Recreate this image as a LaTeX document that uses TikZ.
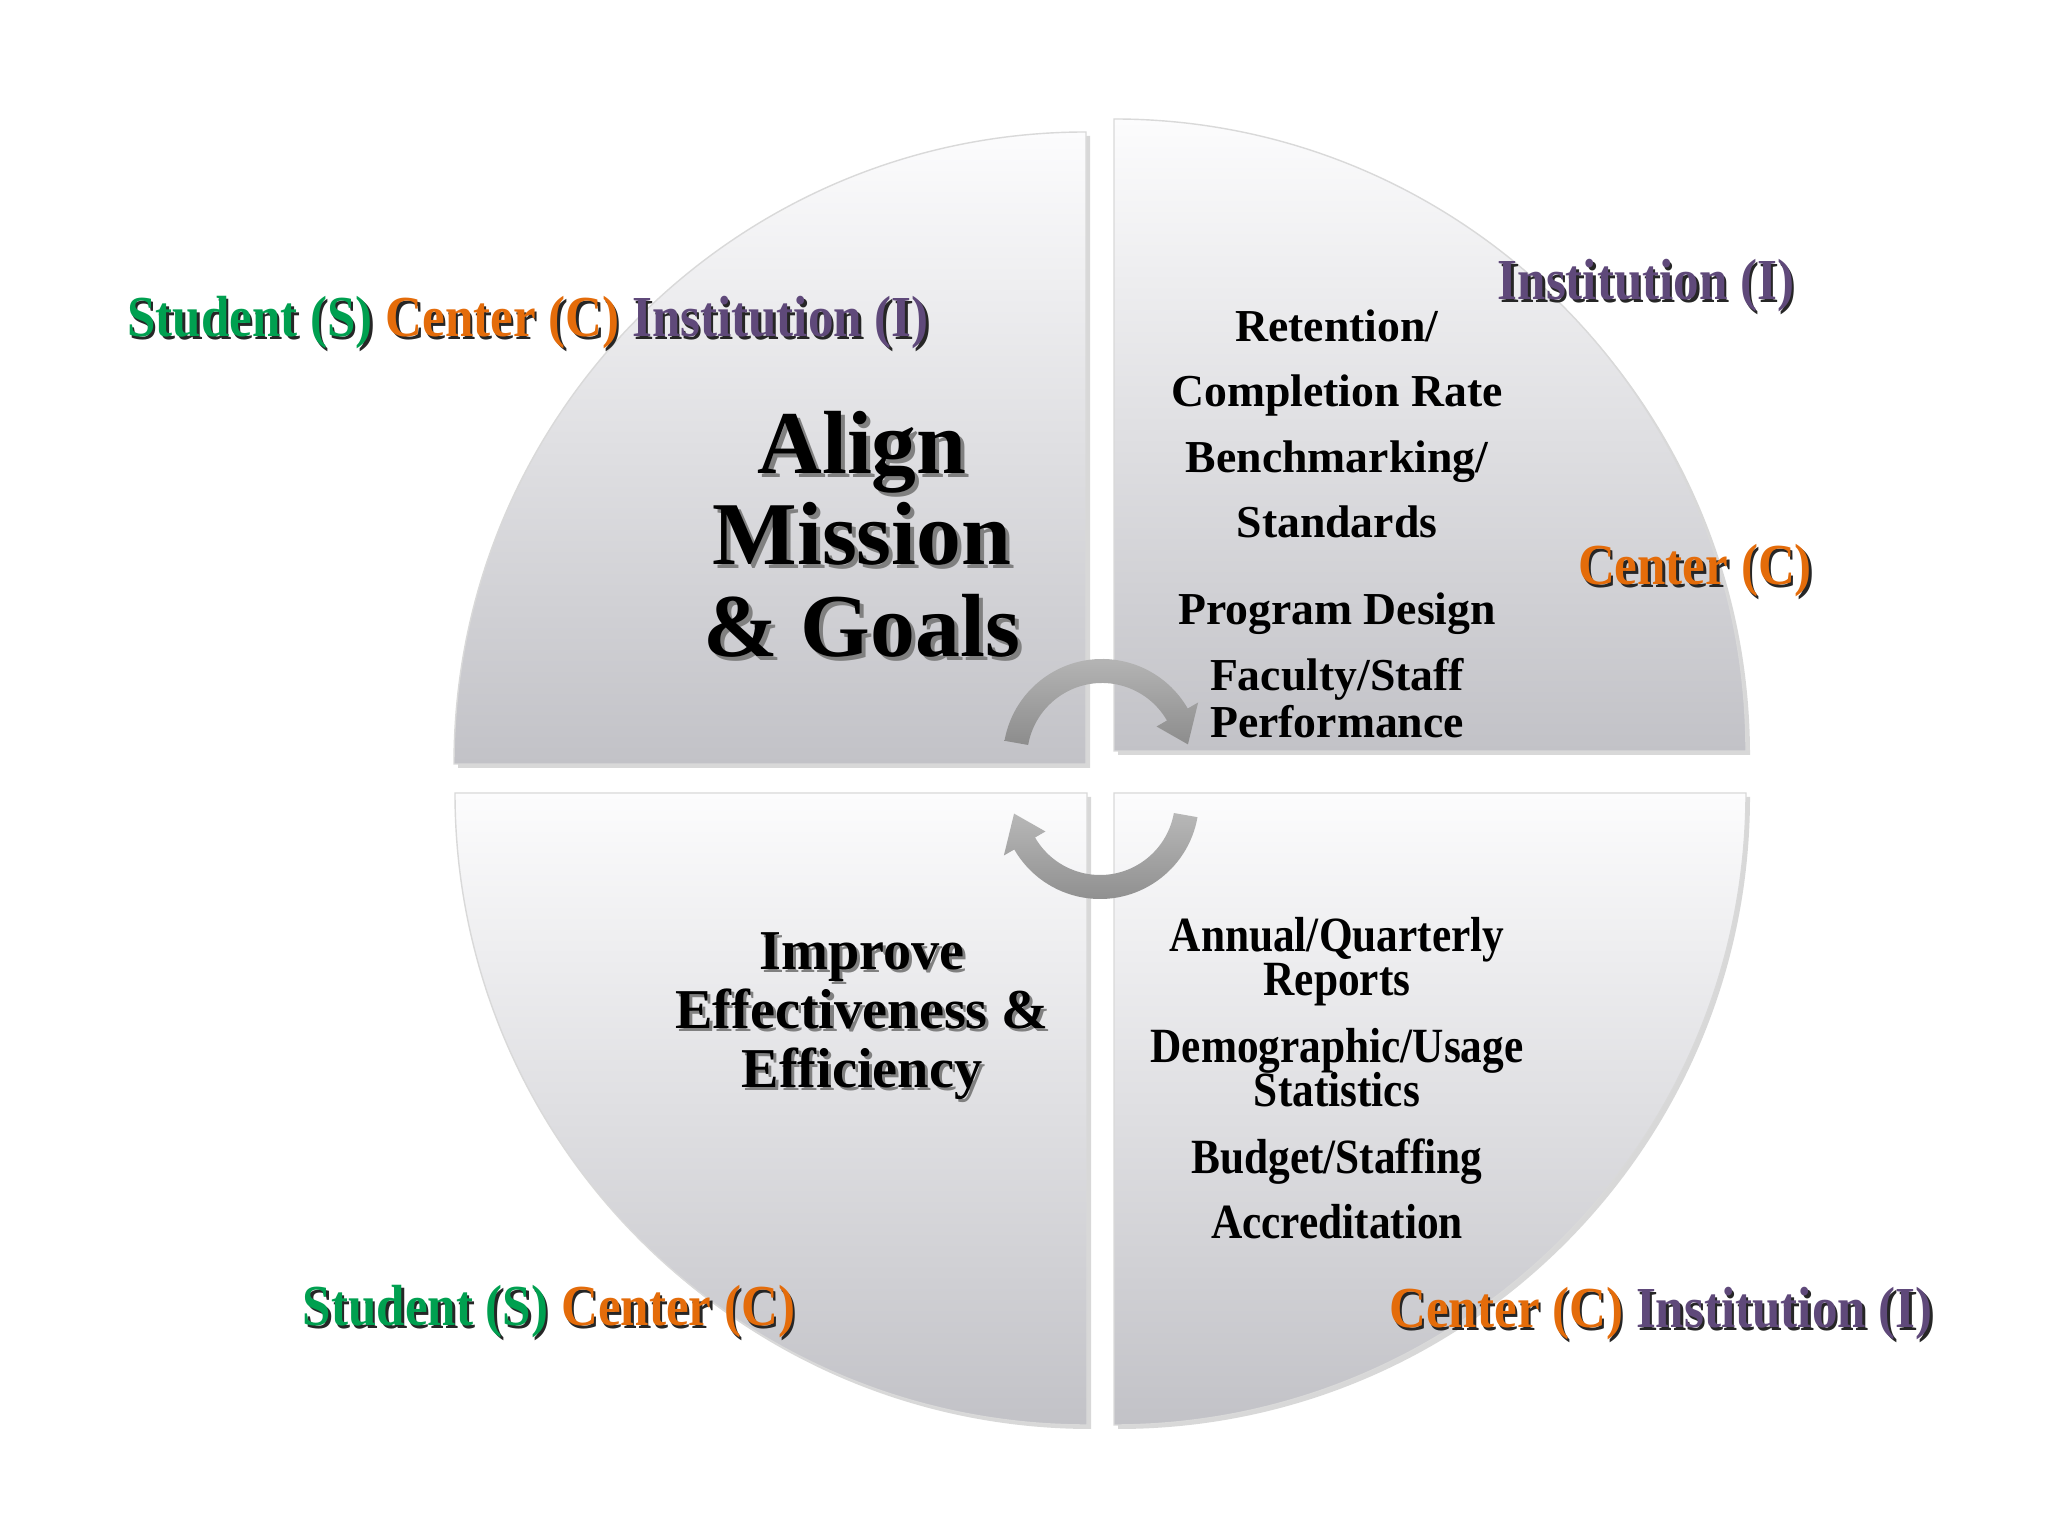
\documentclass[tikz,border=0pt]{standalone}
\usepackage{fontspec}
\setmainfont{Liberation Serif}
\newfontfamily\narrowserif{Liberation Serif}[FakeStretch=0.88]
\usepackage{tikz}
\usetikzlibrary{calc,shadows,positioning}
\definecolor{stugreen}{RGB}{0,160,80}
\definecolor{cenorange}{RGB}{228,108,10}
\definecolor{instpurple}{RGB}{95,73,122}
\definecolor{pielight}{RGB}{252,252,253}
\definecolor{piedark}{RGB}{194,194,199}
\newcommand{\Stu}{\textcolor{stugreen}{Student (S)}}
\newcommand{\Cen}{\textcolor{cenorange}{Center (C)}}
\newcommand{\Ins}{\textcolor{instpurple}{Institution (I)}}
\newcommand{\blackout}{\colorlet{stugreen}{black!85}\colorlet{cenorange}{black!85}\colorlet{instpurple}{black!85}}
% tag with a dark shadow behind it
\newcommand{\tagpair}[3]{%
  \node[tagtext] (#1-shadow) at ($(#2)+(2.5,-2.5)$) {\blackout #3};
  \node[tagtext] (#1) at (#2) {#3};}

\begin{document}
\begin{tikzpicture}[
  x=0.01cm, y=0.01cm,
  quad/.style={
    top color=pielight,
    bottom color=piedark,
    draw=black!15,
    line width=0.4pt,
    drop shadow={shadow xshift=0.04cm, shadow yshift=-0.04cm, opacity=0.3}
    },
  swirl/.style={top color=black!28, bottom color=black!45},
  headtext/.style={font=\bfseries\fontsize{25.5}{25.9}\selectfont, align=center, inner sep=0pt, anchor=north},
  subhead/.style={font=\bfseries\fontsize{16}{16.8}\selectfont, align=center, inner sep=0pt, anchor=north},
  itemtext/.style={font=\bfseries\fontsize{13}{13.4}\selectfont, align=center, inner sep=0pt, anchor=north},
  reporttext/.style={font={\narrowserif\bfseries\fontsize{14}{12.5}\selectfont\lineskiplimit=-5pt}, align=center, inner sep=0pt, anchor=north},
  tagtext/.style={font=\narrowserif\bfseries\fontsize{16.5}{18}\selectfont, inner sep=0pt, anchor=base}
]
\fill[white] (0,0) rectangle (2048,1536);
\useasboundingbox (0,0) rectangle (2048,1536);

% corners of the four quarters
\coordinate (tl) at (1086,772);
\coordinate (tr) at (1114,785);
\coordinate (bl) at (1087,743);
\coordinate (br) at (1114,743);

\path[quad] (tl) -- ++(-632,0) arc[start angle=180, end angle=90, radius=632] -- cycle;
\path[quad] (tr) -- ++(0,632) arc[start angle=90, end angle=0, radius=632] -- cycle;
\path[quad] (bl) -- ++(-632,0) arc[start angle=180, end angle=270, radius=632] -- cycle;
\path[quad] (br) -- ++(632,0) arc[start angle=0, end angle=-90, radius=632] -- cycle;

% circular arrows
\coordinate (topc) at (1102,778);
\coordinate (botc) at (1100,736);
\path[swirl] ([shift={(topc)}]170:99) arc[start angle=170, end angle=30, radius=99]
  -- ([shift={(topc)}]30:111) -- ([shift={(topc)}]9:87) -- ([shift={(topc)}]30:63)
  -- ([shift={(topc)}]30:75) arc[start angle=30, end angle=170, radius=75] -- cycle;
\path[swirl] ([shift={(botc)}]-10:99) arc[start angle=-10, end angle=-150, radius=99]
  -- ([shift={(botc)}]-150:111) -- ([shift={(botc)}]-171:87) -- ([shift={(botc)}]-150:63)
  -- ([shift={(botc)}]-150:75) arc[start angle=-150, end angle=-10, radius=75] -- cycle;

% headings
\node[headtext, text=black!50] (align-shadow) at (866,1121) {Align\\Mission\\\& Goals};
\node[headtext] (align) at (862,1125) {Align\\Mission\\\& Goals};
\node[subhead, text=black!50] (improve-shadow) at (865,601) {Improve\\Effectiveness \&\\Efficiency};
\node[subhead] (improve) at (862,604) {Improve\\Effectiveness \&\\Efficiency};

% measures
\node[itemtext] (measures) at (1337,1227) {Retention/\\[5.2pt]Completion Rate\\[5.2pt]Benchmarking/\\[5.2pt]Standards\\[11.4pt]Program Design\\[5.2pt]Faculty/Staff\\Performance};
\node[reporttext] (reports) at (1337,619) {Annual/Quarterly\\Reports\\[6.5pt]Demographic/Usage\\Statistics\\[6.5pt]Budget/Staffing\\[6pt]Accreditation};

% levels
\tagpair{tagtl}{528,1199}{\Stu{} \Cen{} \Ins}
\tagpair{tagtri}{1646,1236}{\Ins}
\tagpair{tagtrc}{1695,951}{\Cen}
\tagpair{tagbl}{549,210}{\Stu{} \Cen}
\tagpair{tagbr}{1661,208}{\Cen{} \Ins}

\end{tikzpicture}
\end{document}
